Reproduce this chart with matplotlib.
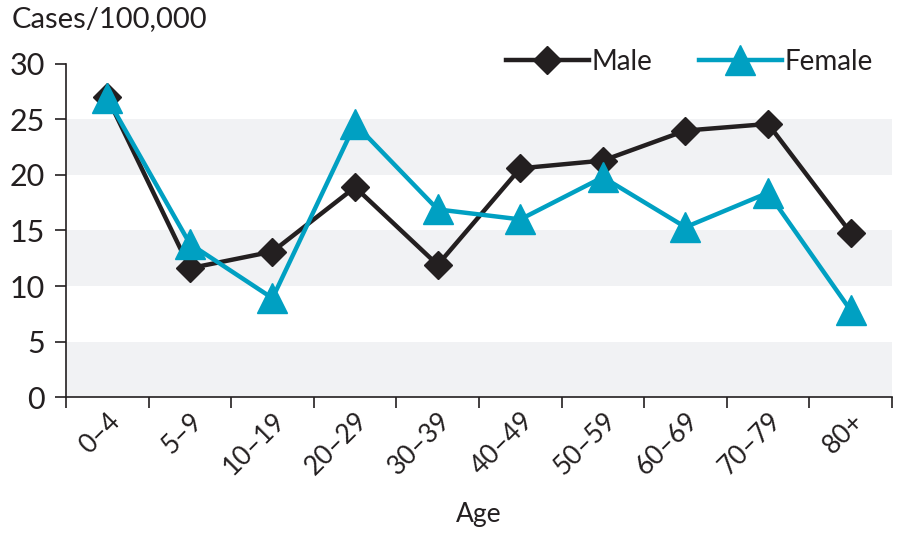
from matplotlib import pyplot as plt
import numpy as np

ages = ['0–4', '5–9', '10–19', '20–29', '30–39', '40–49', '50–59', '60–69', '70–79', '80+']
male = [27.0, 11.6, 13.1, 18.9, 11.9, 20.6, 21.3, 24.0, 24.6, 14.8]
female = [26.9, 13.8, 8.9, 24.6, 16.9, 16.0, 19.8, 15.3, 18.4, 7.8]

dark = '#231f20'
blue = '#00a0c2'
band = '#f1f2f4'

plt.rcParams['font.family'] = ['Lato', 'DejaVu Sans']

fig = plt.figure(figsize=(8.99, 5.40), dpi=100)
ax = fig.add_axes([0.0734, 0.2648, 0.9188, 0.6167])

x = np.arange(len(ages))
ax.set_xlim(-0.5, len(ages) - 0.5)
ax.set_ylim(0, 30)

# grey bands
for lo in [0, 10, 20]:
    ax.axhspan(lo, lo + 5, color=band, lw=0, zorder=0)

ax.plot(x, male, '-D', color=dark, lw=3.2, ms=14.5, label='Male', zorder=3)
ax.plot(x, female, '-^', color=blue, lw=3.2, ms=21, label='Female', zorder=4)

for s in ['top', 'right']:
    ax.spines[s].set_visible(False)
for s in ['left', 'bottom']:
    ax.spines[s].set_color(dark)
    ax.spines[s].set_linewidth(1.2)

ax.set_yticks(range(0, 31, 5))
ax.tick_params(axis='y', length=8, width=1.2, color=dark, labelsize=22, labelcolor=dark, pad=7)
ax.set_xticks(np.arange(-0.5, len(ages)), minor=False)
ax.set_xticklabels([])
ax.set_xticks(x, minor=True)
ax.set_xticklabels(ages, minor=True, rotation=45, ha='right', va='top',
                   rotation_mode='anchor', fontsize=19, color=dark)
ax.tick_params(axis='x', which='major', length=8, width=1.2, color=dark)
ax.tick_params(axis='x', which='minor', length=0, pad=8)

ax.set_xlabel('Age', fontsize=19, color=dark, labelpad=16)
fig.text(0.013, 0.965, 'Cases/100,000', fontsize=21, color=dark, va='center', ha='left')

ax.legend(loc='center right', bbox_to_anchor=(0.999, 0.885), bbox_transform=fig.transFigure,
          ncol=2, frameon=False, fontsize=20, handlelength=3.0, handletextpad=0.1,
          columnspacing=1.65, labelcolor=dark)

fig.savefig('out.png', dpi=100)
